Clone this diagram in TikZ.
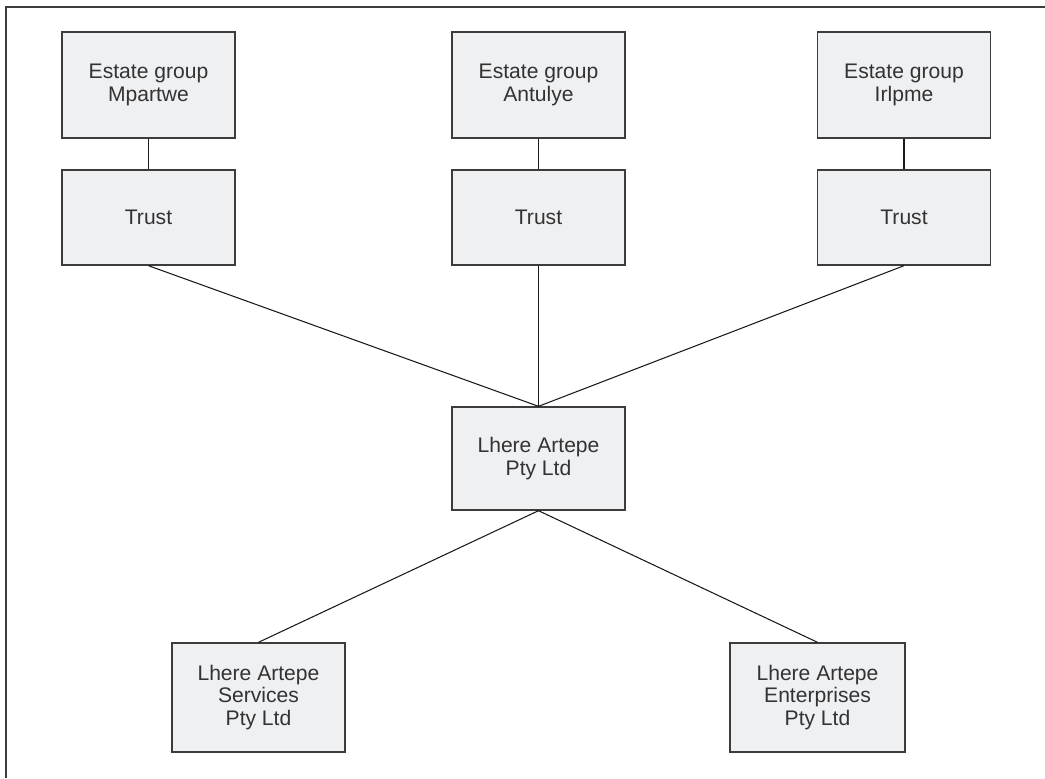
\documentclass[tikz,border=0pt]{standalone}
\usepackage{fontspec}
\setmainfont{Liberation Sans}

\definecolor{boxfill}{RGB}{239,240,242}
\definecolor{boxline}{RGB}{60,60,60}

\begin{document}
\begin{tikzpicture}[x=0.02cm,y=-0.02cm,
    entity/.style={draw=boxline,fill=boxfill,line width=0.8pt,align=center,
        minimum width=3.46cm,font=\fontsize{12}{13}\selectfont,text=black!80},
    link/.style={draw=black!90,line width=0.6pt}]
    \useasboundingbox (0,0) rectangle (1045,778);
    \draw[boxline,line width=1pt] (6,778) |- (1045,7);

    \node[entity,minimum height=2.12cm] (EM) at (148.5,85) {Estate group\\Mpartwe};
    \node[entity,minimum height=2.12cm] (EA) at (538.5,85) {Estate group\\Antulye};
    \node[entity,minimum height=2.12cm] (EI) at (904,85) {Estate group\\Irlpme};

    \node[entity,minimum height=1.9cm] (TM) at (148.5,217.5) {Trust};
    \node[entity,minimum height=1.9cm] (TA) at (538.5,217.5) {Trust};
    \node[entity,minimum height=1.9cm] (TI) at (904,217.5) {Trust};

    \node[entity,minimum height=2.06cm] (LA) at (538.5,458.5) {Lhere Artepe\\Pty Ltd};

    \node[entity,minimum height=2.18cm] (LS) at (258.5,697.5) {Lhere Artepe\\Services\\Pty Ltd};
    \node[entity,minimum height=2.18cm,minimum width=3.5cm] (LE) at (817.5,697.5) {Lhere Artepe\\Enterprises\\Pty Ltd};

    \draw[link] (EM)--(TM);
    \draw[link] (EA)--(TA);
    \draw[link] (EI)--(TI);

    \draw[link] (TM.south)--(LA.north);
    \draw[link] (TA.south)--(LA.north);
    \draw[link] (TI.south)--(LA.north);

    \draw[link] (LA.south)--(LS.north);
    \draw[link] (LA.south)--(LE.north);
\end{tikzpicture}
\end{document}
